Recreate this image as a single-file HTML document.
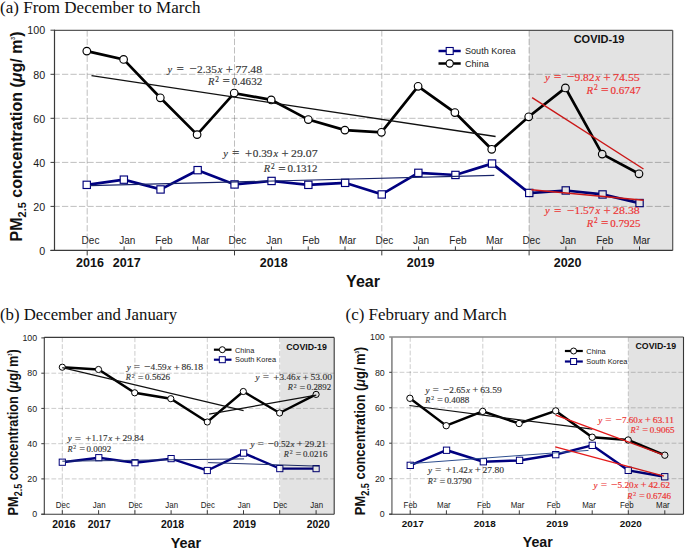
<!DOCTYPE html>
<html><head><meta charset="utf-8"><style>
html,body{margin:0;padding:0;background:#fff;}
svg{display:block;}
</style></head><body>
<svg width="685" height="550" viewBox="0 0 685 550">
<rect width="685" height="550" fill="#fff"/>
<line x1="53.5" y1="206.4" x2="672.7" y2="206.4" stroke="#000" stroke-width="1" stroke-dasharray="6.3,2.17" stroke-opacity="0.25"/>
<line x1="53.5" y1="162.4" x2="672.7" y2="162.4" stroke="#000" stroke-width="1" stroke-dasharray="6.3,2.17" stroke-opacity="0.25"/>
<line x1="53.5" y1="118.3" x2="672.7" y2="118.3" stroke="#000" stroke-width="1" stroke-dasharray="6.3,2.17" stroke-opacity="0.25"/>
<line x1="53.5" y1="74.3" x2="672.7" y2="74.3" stroke="#000" stroke-width="1" stroke-dasharray="6.3,2.17" stroke-opacity="0.25"/>
<line x1="87.2" y1="30.3" x2="87.2" y2="250.4" stroke="#000" stroke-width="1" stroke-dasharray="6.3,2.17" stroke-opacity="0.25"/>
<line x1="234.5" y1="30.3" x2="234.5" y2="250.4" stroke="#000" stroke-width="1" stroke-dasharray="6.3,2.17" stroke-opacity="0.25"/>
<line x1="381.8" y1="30.3" x2="381.8" y2="250.4" stroke="#000" stroke-width="1" stroke-dasharray="6.3,2.17" stroke-opacity="0.25"/>
<line x1="529.1" y1="30.3" x2="529.1" y2="250.4" stroke="#000" stroke-width="1" stroke-dasharray="6.3,2.17" stroke-opacity="0.25"/>
<line x1="54.5" y1="30.3" x2="672.7" y2="30.3" stroke="#5a5a5a" stroke-width="1.2"/>
<line x1="672.7" y1="30.3" x2="672.7" y2="250.4" stroke="#5a5a5a" stroke-width="1.2"/>
<line x1="54.5" y1="29.7" x2="54.5" y2="251.0" stroke="#3a3a3a" stroke-width="1.2"/>
<line x1="50.5" y1="250.4" x2="672.7" y2="250.4" stroke="#3a3a3a" stroke-width="1.2"/>
<line x1="50.5" y1="250.5" x2="54.5" y2="250.5" stroke="#3a3a3a" stroke-width="1"/>
<text x="45.2" y="254.7" font-family='"Liberation Sans", sans-serif' font-size="10.7" text-anchor="end" font-weight="normal" font-style="normal" fill="#1a1a1a" >0</text>
<line x1="50.5" y1="206.4" x2="54.5" y2="206.4" stroke="#3a3a3a" stroke-width="1"/>
<text x="45.2" y="210.6" font-family='"Liberation Sans", sans-serif' font-size="10.7" text-anchor="end" font-weight="normal" font-style="normal" fill="#1a1a1a" >20</text>
<line x1="50.5" y1="162.4" x2="54.5" y2="162.4" stroke="#3a3a3a" stroke-width="1"/>
<text x="45.2" y="166.6" font-family='"Liberation Sans", sans-serif' font-size="10.7" text-anchor="end" font-weight="normal" font-style="normal" fill="#1a1a1a" >40</text>
<line x1="50.5" y1="118.3" x2="54.5" y2="118.3" stroke="#3a3a3a" stroke-width="1"/>
<text x="45.2" y="122.5" font-family='"Liberation Sans", sans-serif' font-size="10.7" text-anchor="end" font-weight="normal" font-style="normal" fill="#1a1a1a" >60</text>
<line x1="50.5" y1="74.3" x2="54.5" y2="74.3" stroke="#3a3a3a" stroke-width="1"/>
<text x="45.2" y="78.5" font-family='"Liberation Sans", sans-serif' font-size="10.7" text-anchor="end" font-weight="normal" font-style="normal" fill="#1a1a1a" >80</text>
<line x1="50.5" y1="30.2" x2="54.5" y2="30.2" stroke="#3a3a3a" stroke-width="1"/>
<text x="45.2" y="34.4" font-family='"Liberation Sans", sans-serif' font-size="10.7" text-anchor="end" font-weight="normal" font-style="normal" fill="#1a1a1a" >100</text>
<line x1="87.2" y1="250.4" x2="87.2" y2="255.4" stroke="#3a3a3a" stroke-width="1"/>
<line x1="124.1" y1="246.4" x2="124.1" y2="250.4" stroke="#3a3a3a" stroke-width="1"/>
<line x1="160.9" y1="246.4" x2="160.9" y2="250.4" stroke="#3a3a3a" stroke-width="1"/>
<line x1="197.7" y1="246.4" x2="197.7" y2="250.4" stroke="#3a3a3a" stroke-width="1"/>
<line x1="234.5" y1="250.4" x2="234.5" y2="255.4" stroke="#3a3a3a" stroke-width="1"/>
<line x1="271.4" y1="246.4" x2="271.4" y2="250.4" stroke="#3a3a3a" stroke-width="1"/>
<line x1="308.2" y1="246.4" x2="308.2" y2="250.4" stroke="#3a3a3a" stroke-width="1"/>
<line x1="345.0" y1="246.4" x2="345.0" y2="250.4" stroke="#3a3a3a" stroke-width="1"/>
<line x1="381.8" y1="250.4" x2="381.8" y2="255.4" stroke="#3a3a3a" stroke-width="1"/>
<line x1="418.6" y1="246.4" x2="418.6" y2="250.4" stroke="#3a3a3a" stroke-width="1"/>
<line x1="455.4" y1="246.4" x2="455.4" y2="250.4" stroke="#3a3a3a" stroke-width="1"/>
<line x1="492.3" y1="246.4" x2="492.3" y2="250.4" stroke="#3a3a3a" stroke-width="1"/>
<line x1="529.1" y1="250.4" x2="529.1" y2="255.4" stroke="#3a3a3a" stroke-width="1"/>
<line x1="565.9" y1="246.4" x2="565.9" y2="250.4" stroke="#3a3a3a" stroke-width="1"/>
<line x1="602.7" y1="246.4" x2="602.7" y2="250.4" stroke="#3a3a3a" stroke-width="1"/>
<line x1="639.5" y1="246.4" x2="639.5" y2="250.4" stroke="#3a3a3a" stroke-width="1"/>
<text x="90.5" y="243.8" font-family='"Liberation Sans", sans-serif' font-size="10" text-anchor="middle" font-weight="normal" font-style="normal" fill="#1e1e1e" >Dec</text>
<text x="127.2" y="243.8" font-family='"Liberation Sans", sans-serif' font-size="10" text-anchor="middle" font-weight="normal" font-style="normal" fill="#1e1e1e" >Jan</text>
<text x="163.9" y="243.8" font-family='"Liberation Sans", sans-serif' font-size="10" text-anchor="middle" font-weight="normal" font-style="normal" fill="#1e1e1e" >Feb</text>
<text x="200.7" y="243.8" font-family='"Liberation Sans", sans-serif' font-size="10" text-anchor="middle" font-weight="normal" font-style="normal" fill="#1e1e1e" >Mar</text>
<text x="237.4" y="243.8" font-family='"Liberation Sans", sans-serif' font-size="10" text-anchor="middle" font-weight="normal" font-style="normal" fill="#1e1e1e" >Dec</text>
<text x="274.2" y="243.8" font-family='"Liberation Sans", sans-serif' font-size="10" text-anchor="middle" font-weight="normal" font-style="normal" fill="#1e1e1e" >Jan</text>
<text x="310.9" y="243.8" font-family='"Liberation Sans", sans-serif' font-size="10" text-anchor="middle" font-weight="normal" font-style="normal" fill="#1e1e1e" >Feb</text>
<text x="347.6" y="243.8" font-family='"Liberation Sans", sans-serif' font-size="10" text-anchor="middle" font-weight="normal" font-style="normal" fill="#1e1e1e" >Mar</text>
<text x="384.4" y="243.8" font-family='"Liberation Sans", sans-serif' font-size="10" text-anchor="middle" font-weight="normal" font-style="normal" fill="#1e1e1e" >Dec</text>
<text x="421.1" y="243.8" font-family='"Liberation Sans", sans-serif' font-size="10" text-anchor="middle" font-weight="normal" font-style="normal" fill="#1e1e1e" >Jan</text>
<text x="457.9" y="243.8" font-family='"Liberation Sans", sans-serif' font-size="10" text-anchor="middle" font-weight="normal" font-style="normal" fill="#1e1e1e" >Feb</text>
<text x="494.6" y="243.8" font-family='"Liberation Sans", sans-serif' font-size="10" text-anchor="middle" font-weight="normal" font-style="normal" fill="#1e1e1e" >Mar</text>
<text x="531.3" y="243.8" font-family='"Liberation Sans", sans-serif' font-size="10" text-anchor="middle" font-weight="normal" font-style="normal" fill="#1e1e1e" >Dec</text>
<text x="568.1" y="243.8" font-family='"Liberation Sans", sans-serif' font-size="10" text-anchor="middle" font-weight="normal" font-style="normal" fill="#1e1e1e" >Jan</text>
<text x="604.8" y="243.8" font-family='"Liberation Sans", sans-serif' font-size="10" text-anchor="middle" font-weight="normal" font-style="normal" fill="#1e1e1e" >Feb</text>
<text x="641.6" y="243.8" font-family='"Liberation Sans", sans-serif' font-size="10" text-anchor="middle" font-weight="normal" font-style="normal" fill="#1e1e1e" >Mar</text>
<text x="90.0" y="267.0" font-family='"Liberation Sans", sans-serif' font-size="12.5" text-anchor="middle" font-weight="bold" font-style="normal" fill="#111" >2016</text>
<text x="126.7" y="267.0" font-family='"Liberation Sans", sans-serif' font-size="12.5" text-anchor="middle" font-weight="bold" font-style="normal" fill="#111" >2017</text>
<text x="273.7" y="267.0" font-family='"Liberation Sans", sans-serif' font-size="12.5" text-anchor="middle" font-weight="bold" font-style="normal" fill="#111" >2018</text>
<text x="420.6" y="267.0" font-family='"Liberation Sans", sans-serif' font-size="12.5" text-anchor="middle" font-weight="bold" font-style="normal" fill="#111" >2019</text>
<text x="567.6" y="267.0" font-family='"Liberation Sans", sans-serif' font-size="12.5" text-anchor="middle" font-weight="bold" font-style="normal" fill="#111" >2020</text>
<text x="363.0" y="287.0" font-family='"Liberation Sans", sans-serif' font-size="16" text-anchor="middle" font-weight="bold" font-style="normal" fill="#111" >Year</text>
<text transform="translate(21.6,136.5) rotate(-90)" font-family='"Liberation Sans", sans-serif' font-size="16" font-weight="bold" text-anchor="middle" fill="#111">PM<tspan font-size="11" dy="4">2.5</tspan><tspan dy="-4"> concentration (</tspan><tspan font-style="italic">μ</tspan>g/ m<tspan font-size="5" dy="-7">3</tspan><tspan dy="7">)</tspan></text>
<text x="0.0" y="12.6" font-family='"Liberation Serif", serif' font-size="17.05" text-anchor="start" font-weight="normal" font-style="normal" fill="#111" >(a) From December to March</text>
<polyline points="86.8,51.1 123.6,59.4 160.3,97.8 197.1,134.6 234.2,93.1 271.2,99.9 308.3,119.6 344.9,130.1 381.4,132.3 418.1,86.3 454.9,112.6 491.7,149.3 528.7,116.8 565.4,87.9 602.2,154.1 639.0,173.8" fill="none" stroke="#000" stroke-width="2.7" stroke-linejoin="miter"/>
<polyline points="86.8,184.9 123.9,179.7 160.6,189.4 197.7,170.2 234.6,184.4 271.5,181.0 308.3,184.9 345.1,182.8 381.7,194.4 418.3,172.8 455.4,175.0 492.0,163.6 529.2,193.0 565.7,190.5 602.5,194.4 639.5,203.1" fill="none" stroke="#000080" stroke-width="2.7" stroke-linejoin="miter"/>
<circle cx="86.8" cy="51.1" r="3.8" fill="#fff" stroke="#000" stroke-width="1.15"/>
<circle cx="123.6" cy="59.4" r="3.8" fill="#fff" stroke="#000" stroke-width="1.15"/>
<circle cx="160.3" cy="97.8" r="3.8" fill="#fff" stroke="#000" stroke-width="1.15"/>
<circle cx="197.1" cy="134.6" r="3.8" fill="#fff" stroke="#000" stroke-width="1.15"/>
<circle cx="234.2" cy="93.1" r="3.8" fill="#fff" stroke="#000" stroke-width="1.15"/>
<circle cx="271.2" cy="99.9" r="3.8" fill="#fff" stroke="#000" stroke-width="1.15"/>
<circle cx="308.3" cy="119.6" r="3.8" fill="#fff" stroke="#000" stroke-width="1.15"/>
<circle cx="344.9" cy="130.1" r="3.8" fill="#fff" stroke="#000" stroke-width="1.15"/>
<circle cx="381.4" cy="132.3" r="3.8" fill="#fff" stroke="#000" stroke-width="1.15"/>
<circle cx="418.1" cy="86.3" r="3.8" fill="#fff" stroke="#000" stroke-width="1.15"/>
<circle cx="454.9" cy="112.6" r="3.8" fill="#fff" stroke="#000" stroke-width="1.15"/>
<circle cx="491.7" cy="149.3" r="3.8" fill="#fff" stroke="#000" stroke-width="1.15"/>
<circle cx="528.7" cy="116.8" r="3.8" fill="#fff" stroke="#000" stroke-width="1.15"/>
<circle cx="565.4" cy="87.9" r="3.8" fill="#fff" stroke="#000" stroke-width="1.15"/>
<circle cx="602.2" cy="154.1" r="3.8" fill="#fff" stroke="#000" stroke-width="1.15"/>
<circle cx="639.0" cy="173.8" r="3.8" fill="#fff" stroke="#000" stroke-width="1.15"/>
<rect x="83.1" y="181.2" width="7.3" height="7.3" fill="#fff" stroke="#00007a" stroke-width="1.15"/>
<rect x="120.2" y="176.0" width="7.3" height="7.3" fill="#fff" stroke="#00007a" stroke-width="1.15"/>
<rect x="156.9" y="185.8" width="7.3" height="7.3" fill="#fff" stroke="#00007a" stroke-width="1.15"/>
<rect x="194.0" y="166.5" width="7.3" height="7.3" fill="#fff" stroke="#00007a" stroke-width="1.15"/>
<rect x="230.9" y="180.8" width="7.3" height="7.3" fill="#fff" stroke="#00007a" stroke-width="1.15"/>
<rect x="267.9" y="177.3" width="7.3" height="7.3" fill="#fff" stroke="#00007a" stroke-width="1.15"/>
<rect x="304.7" y="181.2" width="7.3" height="7.3" fill="#fff" stroke="#00007a" stroke-width="1.15"/>
<rect x="341.5" y="179.2" width="7.3" height="7.3" fill="#fff" stroke="#00007a" stroke-width="1.15"/>
<rect x="378.1" y="190.8" width="7.3" height="7.3" fill="#fff" stroke="#00007a" stroke-width="1.15"/>
<rect x="414.7" y="169.2" width="7.3" height="7.3" fill="#fff" stroke="#00007a" stroke-width="1.15"/>
<rect x="451.8" y="171.3" width="7.3" height="7.3" fill="#fff" stroke="#00007a" stroke-width="1.15"/>
<rect x="488.4" y="159.9" width="7.3" height="7.3" fill="#fff" stroke="#00007a" stroke-width="1.15"/>
<rect x="525.6" y="189.3" width="7.3" height="7.3" fill="#fff" stroke="#00007a" stroke-width="1.15"/>
<rect x="562.1" y="186.8" width="7.3" height="7.3" fill="#fff" stroke="#00007a" stroke-width="1.15"/>
<rect x="598.9" y="190.8" width="7.3" height="7.3" fill="#fff" stroke="#00007a" stroke-width="1.15"/>
<rect x="635.9" y="199.4" width="7.3" height="7.3" fill="#fff" stroke="#00007a" stroke-width="1.15"/>
<line x1="91.5" y1="75.7" x2="495.6" y2="136.5" stroke="#111" stroke-width="1.3"/>
<line x1="90.0" y1="185.7" x2="494.3" y2="175.3" stroke="#18236a" stroke-width="1.2"/>
<line x1="532.1" y1="97.6" x2="643.5" y2="169.0" stroke="#e41a1a" stroke-width="1.4"/>
<line x1="531.3" y1="189.7" x2="643.7" y2="200.2" stroke="#e41a1a" stroke-width="1.4"/>
<rect x="529" y="30.3" width="143.7" height="220.1" fill="#000" fill-opacity="0.11"/>
<text x="169.9" y="72.9" font-family='"Liberation Serif", serif' font-size="10.5" font-style="italic" text-anchor="middle" fill="#333" stroke="#333" stroke-width="0.14">y</text>
<text x="180.1" y="73.3" font-family='"Liberation Serif", serif' font-size="13.125" font-style="normal" text-anchor="middle" fill="#333" stroke="#333" stroke-width="0.14">=</text>
<text x="193.0" y="73.3" font-family='"Liberation Serif", serif' font-size="13.125" font-style="normal" text-anchor="middle" fill="#333" stroke="#333" stroke-width="0.14">−</text>
<text x="197.1" y="72.9" font-family='"Liberation Serif", serif' font-size="10.5" font-style="normal" text-anchor="start" fill="#333" stroke="#333" stroke-width="0.14" textLength="19.8" lengthAdjust="spacingAndGlyphs">2.35</text>
<text x="220.2" y="72.9" font-family='"Liberation Serif", serif' font-size="10.5" font-style="italic" text-anchor="middle" fill="#333" stroke="#333" stroke-width="0.14">x</text>
<text x="229.4" y="74.0" font-family='"Liberation Serif", serif' font-size="12.6" font-style="normal" text-anchor="middle" fill="#333" stroke="#333" stroke-width="0.14">+</text>
<text x="235.6" y="72.9" font-family='"Liberation Serif", serif' font-size="10.5" font-style="normal" text-anchor="start" fill="#333" stroke="#333" stroke-width="0.14" textLength="26.6" lengthAdjust="spacingAndGlyphs">77.48</text>
<text x="211.2" y="84.8" font-family='"Liberation Serif", serif' font-size="10.5" font-style="italic" text-anchor="middle" fill="#333" stroke="#333" stroke-width="0.14">R</text>
<text x="217.1" y="81.5" font-family='"Liberation Serif", serif' font-size="7.35" font-style="normal" text-anchor="middle" fill="#333" stroke="#333" stroke-width="0.14">2</text>
<text x="226.2" y="85.2" font-family='"Liberation Serif", serif' font-size="13.125" font-style="normal" text-anchor="middle" fill="#333" stroke="#333" stroke-width="0.14">=</text>
<text x="231.8" y="84.8" font-family='"Liberation Serif", serif' font-size="10.5" font-style="normal" text-anchor="start" fill="#333" stroke="#333" stroke-width="0.14" textLength="30.4" lengthAdjust="spacingAndGlyphs">0.4632</text>
<text x="225.6" y="156.7" font-family='"Liberation Serif", serif' font-size="10.5" font-style="italic" text-anchor="middle" fill="#333" stroke="#333" stroke-width="0.14">y</text>
<text x="235.8" y="157.1" font-family='"Liberation Serif", serif' font-size="13.125" font-style="normal" text-anchor="middle" fill="#333" stroke="#333" stroke-width="0.14">=</text>
<text x="248.6" y="157.8" font-family='"Liberation Serif", serif' font-size="12.6" font-style="normal" text-anchor="middle" fill="#333" stroke="#333" stroke-width="0.14">+</text>
<text x="252.8" y="156.7" font-family='"Liberation Serif", serif' font-size="10.5" font-style="normal" text-anchor="start" fill="#333" stroke="#333" stroke-width="0.14" textLength="19.7" lengthAdjust="spacingAndGlyphs">0.39</text>
<text x="275.8" y="156.7" font-family='"Liberation Serif", serif' font-size="10.5" font-style="italic" text-anchor="middle" fill="#333" stroke="#333" stroke-width="0.14">x</text>
<text x="285.0" y="157.8" font-family='"Liberation Serif", serif' font-size="12.6" font-style="normal" text-anchor="middle" fill="#333" stroke="#333" stroke-width="0.14">+</text>
<text x="291.1" y="156.7" font-family='"Liberation Serif", serif' font-size="10.5" font-style="normal" text-anchor="start" fill="#333" stroke="#333" stroke-width="0.14" textLength="26.5" lengthAdjust="spacingAndGlyphs">29.07</text>
<text x="266.9" y="172.1" font-family='"Liberation Serif", serif' font-size="10.5" font-style="italic" text-anchor="middle" fill="#333" stroke="#333" stroke-width="0.14">R</text>
<text x="272.8" y="168.8" font-family='"Liberation Serif", serif' font-size="7.35" font-style="normal" text-anchor="middle" fill="#333" stroke="#333" stroke-width="0.14">2</text>
<text x="281.9" y="172.5" font-family='"Liberation Serif", serif' font-size="13.125" font-style="normal" text-anchor="middle" fill="#333" stroke="#333" stroke-width="0.14">=</text>
<text x="287.4" y="172.1" font-family='"Liberation Serif", serif' font-size="10.5" font-style="normal" text-anchor="start" fill="#333" stroke="#333" stroke-width="0.14" textLength="30.2" lengthAdjust="spacingAndGlyphs">0.1312</text>
<text x="547.4" y="80.5" font-family='"Liberation Serif", serif' font-size="10.8" font-style="italic" text-anchor="middle" fill="#ec3434" stroke="#ec3434" stroke-width="0.18">y</text>
<text x="557.6" y="80.9" font-family='"Liberation Serif", serif' font-size="13.5" font-style="normal" text-anchor="middle" fill="#ec3434" stroke="#ec3434" stroke-width="0.18">=</text>
<text x="570.5" y="80.9" font-family='"Liberation Serif", serif' font-size="13.5" font-style="normal" text-anchor="middle" fill="#ec3434" stroke="#ec3434" stroke-width="0.18">−</text>
<text x="574.6" y="80.5" font-family='"Liberation Serif", serif' font-size="10.8" font-style="normal" text-anchor="start" fill="#ec3434" stroke="#ec3434" stroke-width="0.18" textLength="19.8" lengthAdjust="spacingAndGlyphs">9.82</text>
<text x="597.8" y="80.5" font-family='"Liberation Serif", serif' font-size="10.8" font-style="italic" text-anchor="middle" fill="#ec3434" stroke="#ec3434" stroke-width="0.18">x</text>
<text x="607.0" y="81.6" font-family='"Liberation Serif", serif' font-size="12.96" font-style="normal" text-anchor="middle" fill="#ec3434" stroke="#ec3434" stroke-width="0.18">+</text>
<text x="613.1" y="80.5" font-family='"Liberation Serif", serif' font-size="10.8" font-style="normal" text-anchor="start" fill="#ec3434" stroke="#ec3434" stroke-width="0.18" textLength="26.7" lengthAdjust="spacingAndGlyphs">74.55</text>
<text x="589.9" y="93.7" font-family='"Liberation Serif", serif' font-size="10.8" font-style="italic" text-anchor="middle" fill="#ec3434" stroke="#ec3434" stroke-width="0.18">R</text>
<text x="595.8" y="90.4" font-family='"Liberation Serif", serif' font-size="7.56" font-style="normal" text-anchor="middle" fill="#ec3434" stroke="#ec3434" stroke-width="0.18">2</text>
<text x="604.9" y="94.1" font-family='"Liberation Serif", serif' font-size="13.5" font-style="normal" text-anchor="middle" fill="#ec3434" stroke="#ec3434" stroke-width="0.18">=</text>
<text x="610.5" y="93.7" font-family='"Liberation Serif", serif' font-size="10.8" font-style="normal" text-anchor="start" fill="#ec3434" stroke="#ec3434" stroke-width="0.18" textLength="30.3" lengthAdjust="spacingAndGlyphs">0.6747</text>
<text x="547.4" y="214.1" font-family='"Liberation Serif", serif' font-size="10.5" font-style="italic" text-anchor="middle" fill="#ec3434" stroke="#ec3434" stroke-width="0.18">y</text>
<text x="557.6" y="214.5" font-family='"Liberation Serif", serif' font-size="13.125" font-style="normal" text-anchor="middle" fill="#ec3434" stroke="#ec3434" stroke-width="0.18">=</text>
<text x="570.5" y="214.5" font-family='"Liberation Serif", serif' font-size="13.125" font-style="normal" text-anchor="middle" fill="#ec3434" stroke="#ec3434" stroke-width="0.18">−</text>
<text x="574.6" y="214.1" font-family='"Liberation Serif", serif' font-size="10.5" font-style="normal" text-anchor="start" fill="#ec3434" stroke="#ec3434" stroke-width="0.18" textLength="19.8" lengthAdjust="spacingAndGlyphs">1.57</text>
<text x="597.8" y="214.1" font-family='"Liberation Serif", serif' font-size="10.5" font-style="italic" text-anchor="middle" fill="#ec3434" stroke="#ec3434" stroke-width="0.18">x</text>
<text x="607.0" y="215.2" font-family='"Liberation Serif", serif' font-size="12.6" font-style="normal" text-anchor="middle" fill="#ec3434" stroke="#ec3434" stroke-width="0.18">+</text>
<text x="613.1" y="214.1" font-family='"Liberation Serif", serif' font-size="10.5" font-style="normal" text-anchor="start" fill="#ec3434" stroke="#ec3434" stroke-width="0.18" textLength="26.7" lengthAdjust="spacingAndGlyphs">28.38</text>
<text x="589.9" y="226.5" font-family='"Liberation Serif", serif' font-size="10.5" font-style="italic" text-anchor="middle" fill="#ec3434" stroke="#ec3434" stroke-width="0.18">R</text>
<text x="595.8" y="223.2" font-family='"Liberation Serif", serif' font-size="7.35" font-style="normal" text-anchor="middle" fill="#ec3434" stroke="#ec3434" stroke-width="0.18">2</text>
<text x="604.8" y="226.9" font-family='"Liberation Serif", serif' font-size="13.125" font-style="normal" text-anchor="middle" fill="#ec3434" stroke="#ec3434" stroke-width="0.18">=</text>
<text x="610.3" y="226.5" font-family='"Liberation Serif", serif' font-size="10.5" font-style="normal" text-anchor="start" fill="#ec3434" stroke="#ec3434" stroke-width="0.18" textLength="30.1" lengthAdjust="spacingAndGlyphs">0.7925</text>
<line x1="438.5" y1="51.0" x2="460.7" y2="51.0" stroke="#000080" stroke-width="2.5"/>
<rect x="446.2" y="47.5" width="7" height="7" fill="#fff" stroke="#00007a" stroke-width="1.1"/>
<line x1="438.5" y1="63.5" x2="460.7" y2="63.5" stroke="#000" stroke-width="2.5"/>
<circle cx="449.7" cy="63.5" r="3.6" fill="#fff" stroke="#000" stroke-width="1.1"/>
<text x="465.0" y="54.1" font-family='"Liberation Sans", sans-serif' font-size="9.1" text-anchor="start" font-weight="normal" font-style="normal" fill="#1a1a1a" >South Korea</text>
<text x="465.0" y="66.8" font-family='"Liberation Sans", sans-serif' font-size="9.1" text-anchor="start" font-weight="normal" font-style="normal" fill="#1a1a1a" >China</text>
<text x="599.0" y="42.5" font-family='"Liberation Sans", sans-serif' font-size="11" text-anchor="middle" font-weight="bold" font-style="normal" fill="#111" >COVID-19</text>
<line x1="44.6" y1="478.9" x2="334.2" y2="478.9" stroke="#000" stroke-width="1" stroke-dasharray="4.8,2.0" stroke-opacity="0.2"/>
<line x1="44.6" y1="443.7" x2="334.2" y2="443.7" stroke="#000" stroke-width="1" stroke-dasharray="4.8,2.0" stroke-opacity="0.2"/>
<line x1="44.6" y1="408.4" x2="334.2" y2="408.4" stroke="#000" stroke-width="1" stroke-dasharray="4.8,2.0" stroke-opacity="0.2"/>
<line x1="44.6" y1="373.2" x2="334.2" y2="373.2" stroke="#000" stroke-width="1" stroke-dasharray="4.8,2.0" stroke-opacity="0.2"/>
<line x1="62.3" y1="337.4" x2="62.3" y2="514.2" stroke="#000" stroke-width="1" stroke-dasharray="4.8,2.0" stroke-opacity="0.2"/>
<line x1="134.9" y1="337.4" x2="134.9" y2="514.2" stroke="#000" stroke-width="1" stroke-dasharray="4.8,2.0" stroke-opacity="0.2"/>
<line x1="207.3" y1="337.4" x2="207.3" y2="514.2" stroke="#000" stroke-width="1" stroke-dasharray="4.8,2.0" stroke-opacity="0.2"/>
<line x1="279.7" y1="337.4" x2="279.7" y2="514.2" stroke="#000" stroke-width="1" stroke-dasharray="4.8,2.0" stroke-opacity="0.2"/>
<line x1="44.3" y1="337.4" x2="334.2" y2="337.4" stroke="#3a3a3a" stroke-width="1.1"/>
<line x1="334.2" y1="337.4" x2="334.2" y2="514.2" stroke="#3a3a3a" stroke-width="1.1"/>
<line x1="44.3" y1="336.9" x2="44.3" y2="514.7" stroke="#3a3a3a" stroke-width="1.1"/>
<line x1="41.3" y1="514.2" x2="334.2" y2="514.2" stroke="#3a3a3a" stroke-width="1.1"/>
<line x1="41.3" y1="514.2" x2="44.3" y2="514.2" stroke="#3a3a3a" stroke-width="1"/>
<text x="37.1" y="517.4" font-family='"Liberation Sans", sans-serif' font-size="8.8" text-anchor="end" font-weight="normal" font-style="normal" fill="#1a1a1a" >0</text>
<line x1="41.3" y1="478.9" x2="44.3" y2="478.9" stroke="#3a3a3a" stroke-width="1"/>
<text x="37.1" y="482.1" font-family='"Liberation Sans", sans-serif' font-size="8.8" text-anchor="end" font-weight="normal" font-style="normal" fill="#1a1a1a" >20</text>
<line x1="41.3" y1="443.7" x2="44.3" y2="443.7" stroke="#3a3a3a" stroke-width="1"/>
<text x="37.1" y="446.9" font-family='"Liberation Sans", sans-serif' font-size="8.8" text-anchor="end" font-weight="normal" font-style="normal" fill="#1a1a1a" >40</text>
<line x1="41.3" y1="408.4" x2="44.3" y2="408.4" stroke="#3a3a3a" stroke-width="1"/>
<text x="37.1" y="411.6" font-family='"Liberation Sans", sans-serif' font-size="8.8" text-anchor="end" font-weight="normal" font-style="normal" fill="#1a1a1a" >60</text>
<line x1="41.3" y1="373.2" x2="44.3" y2="373.2" stroke="#3a3a3a" stroke-width="1"/>
<text x="37.1" y="376.4" font-family='"Liberation Sans", sans-serif' font-size="8.8" text-anchor="end" font-weight="normal" font-style="normal" fill="#1a1a1a" >80</text>
<line x1="41.3" y1="337.9" x2="44.3" y2="337.9" stroke="#3a3a3a" stroke-width="1"/>
<text x="37.1" y="341.1" font-family='"Liberation Sans", sans-serif' font-size="8.8" text-anchor="end" font-weight="normal" font-style="normal" fill="#1a1a1a" >100</text>
<line x1="62.3" y1="510.2" x2="62.3" y2="514.2" stroke="#3a3a3a" stroke-width="1"/>
<line x1="98.6" y1="510.2" x2="98.6" y2="514.2" stroke="#3a3a3a" stroke-width="1"/>
<line x1="134.9" y1="510.2" x2="134.9" y2="514.2" stroke="#3a3a3a" stroke-width="1"/>
<line x1="171.1" y1="510.2" x2="171.1" y2="514.2" stroke="#3a3a3a" stroke-width="1"/>
<line x1="207.3" y1="510.2" x2="207.3" y2="514.2" stroke="#3a3a3a" stroke-width="1"/>
<line x1="243.5" y1="510.2" x2="243.5" y2="514.2" stroke="#3a3a3a" stroke-width="1"/>
<line x1="279.7" y1="510.2" x2="279.7" y2="514.2" stroke="#3a3a3a" stroke-width="1"/>
<line x1="316.1" y1="510.2" x2="316.1" y2="514.2" stroke="#3a3a3a" stroke-width="1"/>
<text transform="translate(62.90,507.80) scale(0.9,1)" x="0" y="0" font-family='"Liberation Sans", sans-serif' font-size="8.8" text-anchor="middle" font-weight="normal" fill="#1a1a1a">Dec</text>
<text transform="translate(99.20,507.80) scale(0.9,1)" x="0" y="0" font-family='"Liberation Sans", sans-serif' font-size="8.8" text-anchor="middle" font-weight="normal" fill="#1a1a1a">Jan</text>
<text transform="translate(135.50,507.80) scale(0.9,1)" x="0" y="0" font-family='"Liberation Sans", sans-serif' font-size="8.8" text-anchor="middle" font-weight="normal" fill="#1a1a1a">Dec</text>
<text transform="translate(171.70,507.80) scale(0.9,1)" x="0" y="0" font-family='"Liberation Sans", sans-serif' font-size="8.8" text-anchor="middle" font-weight="normal" fill="#1a1a1a">Jan</text>
<text transform="translate(207.90,507.80) scale(0.9,1)" x="0" y="0" font-family='"Liberation Sans", sans-serif' font-size="8.8" text-anchor="middle" font-weight="normal" fill="#1a1a1a">Dec</text>
<text transform="translate(244.10,507.80) scale(0.9,1)" x="0" y="0" font-family='"Liberation Sans", sans-serif' font-size="8.8" text-anchor="middle" font-weight="normal" fill="#1a1a1a">Jan</text>
<text transform="translate(280.30,507.80) scale(0.9,1)" x="0" y="0" font-family='"Liberation Sans", sans-serif' font-size="8.8" text-anchor="middle" font-weight="normal" fill="#1a1a1a">Dec</text>
<text transform="translate(316.70,507.80) scale(0.9,1)" x="0" y="0" font-family='"Liberation Sans", sans-serif' font-size="8.8" text-anchor="middle" font-weight="normal" fill="#1a1a1a">Jan</text>
<text x="63.9" y="527.5" font-family='"Liberation Sans", sans-serif' font-size="10.4" text-anchor="middle" font-weight="bold" font-style="normal" fill="#111" >2016</text>
<text x="99.2" y="527.5" font-family='"Liberation Sans", sans-serif' font-size="10.4" text-anchor="middle" font-weight="bold" font-style="normal" fill="#111" >2017</text>
<text x="172.6" y="527.5" font-family='"Liberation Sans", sans-serif' font-size="10.4" text-anchor="middle" font-weight="bold" font-style="normal" fill="#111" >2018</text>
<text x="244.6" y="527.5" font-family='"Liberation Sans", sans-serif' font-size="10.4" text-anchor="middle" font-weight="bold" font-style="normal" fill="#111" >2019</text>
<text x="318.2" y="527.5" font-family='"Liberation Sans", sans-serif' font-size="10.4" text-anchor="middle" font-weight="bold" font-style="normal" fill="#111" >2020</text>
<text x="185.9" y="548.1" font-family='"Liberation Sans", sans-serif' font-size="14.4" text-anchor="middle" font-weight="bold" font-style="normal" fill="#111" >Year</text>
<text transform="translate(18.2,432.3) rotate(-90) scale(0.896,1)" font-family='"Liberation Sans", sans-serif' font-size="14.2" font-weight="bold" text-anchor="middle" fill="#111">PM<tspan font-size="10" dy="3.5">2.5</tspan><tspan dy="-3.5"> concentration (</tspan><tspan font-style="italic">μ</tspan>g/ m<tspan font-size="4.5" dy="-6">3</tspan><tspan dy="6">)</tspan></text>
<text x="0.0" y="319.7" font-family='"Liberation Serif", serif' font-size="16.75" text-anchor="start" font-weight="normal" font-style="normal" fill="#111" >(b) December and January</text>
<polyline points="62.3,367.2 98.5,369.5 134.7,392.8 170.8,398.7 207.3,422.0 243.3,391.5 279.6,413.0 316.1,394.4" fill="none" stroke="#000" stroke-width="2.4" stroke-linejoin="miter"/>
<polyline points="62.3,462.2 98.8,457.7 135.0,462.7 171.1,458.6 207.3,470.5 243.6,453.1 279.8,468.6 316.1,468.6" fill="none" stroke="#000080" stroke-width="2.4" stroke-linejoin="miter"/>
<circle cx="62.3" cy="367.2" r="3.1" fill="#fff" stroke="#000" stroke-width="1.0"/>
<circle cx="98.5" cy="369.5" r="3.1" fill="#fff" stroke="#000" stroke-width="1.0"/>
<circle cx="134.7" cy="392.8" r="3.1" fill="#fff" stroke="#000" stroke-width="1.0"/>
<circle cx="170.8" cy="398.7" r="3.1" fill="#fff" stroke="#000" stroke-width="1.0"/>
<circle cx="207.3" cy="422.0" r="3.1" fill="#fff" stroke="#000" stroke-width="1.0"/>
<circle cx="243.3" cy="391.5" r="3.1" fill="#fff" stroke="#000" stroke-width="1.0"/>
<circle cx="279.6" cy="413.0" r="3.1" fill="#fff" stroke="#000" stroke-width="1.0"/>
<circle cx="316.1" cy="394.4" r="3.1" fill="#fff" stroke="#000" stroke-width="1.0"/>
<rect x="59.2" y="459.1" width="6.2" height="6.2" fill="#fff" stroke="#00007a" stroke-width="1.0"/>
<rect x="95.7" y="454.6" width="6.2" height="6.2" fill="#fff" stroke="#00007a" stroke-width="1.0"/>
<rect x="131.9" y="459.6" width="6.2" height="6.2" fill="#fff" stroke="#00007a" stroke-width="1.0"/>
<rect x="168.0" y="455.5" width="6.2" height="6.2" fill="#fff" stroke="#00007a" stroke-width="1.0"/>
<rect x="204.2" y="467.4" width="6.2" height="6.2" fill="#fff" stroke="#00007a" stroke-width="1.0"/>
<rect x="240.5" y="450.0" width="6.2" height="6.2" fill="#fff" stroke="#00007a" stroke-width="1.0"/>
<rect x="276.7" y="465.5" width="6.2" height="6.2" fill="#fff" stroke="#00007a" stroke-width="1.0"/>
<rect x="313.0" y="465.5" width="6.2" height="6.2" fill="#fff" stroke="#00007a" stroke-width="1.0"/>
<line x1="62.3" y1="367.6" x2="243.6" y2="410.6" stroke="#111" stroke-width="1.2"/>
<line x1="209.1" y1="414.1" x2="316.3" y2="395.2" stroke="#111" stroke-width="1.2"/>
<line x1="62.3" y1="461.2" x2="244.1" y2="458.9" stroke="#1f2f6f" stroke-width="1.0"/>
<line x1="208.1" y1="462.6" x2="319.0" y2="466.2" stroke="#1f2f6f" stroke-width="1.0"/>
<rect x="280.3" y="337.4" width="53.9" height="176.8" fill="#000" fill-opacity="0.11"/>
<text x="128.7" y="369.8" font-family='"Liberation Serif", serif' font-size="9" font-style="italic" text-anchor="middle" fill="#333" stroke="#333" stroke-width="0.14">y</text>
<text x="137.0" y="370.2" font-family='"Liberation Serif", serif' font-size="11.25" font-style="normal" text-anchor="middle" fill="#333" stroke="#333" stroke-width="0.14">=</text>
<text x="147.3" y="370.2" font-family='"Liberation Serif", serif' font-size="11.25" font-style="normal" text-anchor="middle" fill="#333" stroke="#333" stroke-width="0.14">−</text>
<text x="150.6" y="369.8" font-family='"Liberation Serif", serif' font-size="9" font-style="normal" text-anchor="start" fill="#333" stroke="#333" stroke-width="0.14" textLength="16.1" lengthAdjust="spacingAndGlyphs">4.59</text>
<text x="169.3" y="369.8" font-family='"Liberation Serif", serif' font-size="9" font-style="italic" text-anchor="middle" fill="#333" stroke="#333" stroke-width="0.14">x</text>
<text x="176.7" y="370.7" font-family='"Liberation Serif", serif' font-size="10.799999999999999" font-style="normal" text-anchor="middle" fill="#333" stroke="#333" stroke-width="0.14">+</text>
<text x="181.5" y="369.8" font-family='"Liberation Serif", serif' font-size="9" font-style="normal" text-anchor="start" fill="#333" stroke="#333" stroke-width="0.14" textLength="21.6" lengthAdjust="spacingAndGlyphs">86.18</text>
<text x="128.3" y="380.2" font-family='"Liberation Serif", serif' font-size="8.3" font-style="italic" text-anchor="middle" fill="#333" stroke="#333" stroke-width="0.14">R</text>
<text x="133.1" y="377.6" font-family='"Liberation Serif", serif' font-size="5.8100000000000005" font-style="normal" text-anchor="middle" fill="#333" stroke="#333" stroke-width="0.14">2</text>
<text x="140.6" y="380.5" font-family='"Liberation Serif", serif' font-size="10.375" font-style="normal" text-anchor="middle" fill="#333" stroke="#333" stroke-width="0.14">=</text>
<text x="145.1" y="380.2" font-family='"Liberation Serif", serif' font-size="8.3" font-style="normal" text-anchor="start" fill="#333" stroke="#333" stroke-width="0.14" textLength="24.9" lengthAdjust="spacingAndGlyphs">0.5626</text>
<text x="257.6" y="379.8" font-family='"Liberation Serif", serif' font-size="9" font-style="italic" text-anchor="middle" fill="#333" stroke="#333" stroke-width="0.14">y</text>
<text x="265.9" y="380.2" font-family='"Liberation Serif", serif' font-size="11.25" font-style="normal" text-anchor="middle" fill="#333" stroke="#333" stroke-width="0.14">=</text>
<text x="276.2" y="380.7" font-family='"Liberation Serif", serif' font-size="10.799999999999999" font-style="normal" text-anchor="middle" fill="#333" stroke="#333" stroke-width="0.14">+</text>
<text x="279.5" y="379.8" font-family='"Liberation Serif", serif' font-size="9" font-style="normal" text-anchor="start" fill="#333" stroke="#333" stroke-width="0.14" textLength="16.1" lengthAdjust="spacingAndGlyphs">3.46</text>
<text x="298.2" y="379.8" font-family='"Liberation Serif", serif' font-size="9" font-style="italic" text-anchor="middle" fill="#333" stroke="#333" stroke-width="0.14">x</text>
<text x="305.6" y="380.7" font-family='"Liberation Serif", serif' font-size="10.799999999999999" font-style="normal" text-anchor="middle" fill="#333" stroke="#333" stroke-width="0.14">+</text>
<text x="310.4" y="379.8" font-family='"Liberation Serif", serif' font-size="9" font-style="normal" text-anchor="start" fill="#333" stroke="#333" stroke-width="0.14" textLength="21.6" lengthAdjust="spacingAndGlyphs">53.00</text>
<text x="290.4" y="390.2" font-family='"Liberation Serif", serif' font-size="8.3" font-style="italic" text-anchor="middle" fill="#333" stroke="#333" stroke-width="0.14">R</text>
<text x="295.1" y="387.6" font-family='"Liberation Serif", serif' font-size="5.8100000000000005" font-style="normal" text-anchor="middle" fill="#333" stroke="#333" stroke-width="0.14">2</text>
<text x="302.4" y="390.5" font-family='"Liberation Serif", serif' font-size="10.375" font-style="normal" text-anchor="middle" fill="#333" stroke="#333" stroke-width="0.14">=</text>
<text x="306.8" y="390.2" font-family='"Liberation Serif", serif' font-size="8.3" font-style="normal" text-anchor="start" fill="#333" stroke="#333" stroke-width="0.14" textLength="24.3" lengthAdjust="spacingAndGlyphs">0.2892</text>
<text x="69.7" y="441.2" font-family='"Liberation Serif", serif' font-size="9" font-style="italic" text-anchor="middle" fill="#333" stroke="#333" stroke-width="0.14">y</text>
<text x="77.9" y="441.6" font-family='"Liberation Serif", serif' font-size="11.25" font-style="normal" text-anchor="middle" fill="#333" stroke="#333" stroke-width="0.14">=</text>
<text x="88.3" y="442.1" font-family='"Liberation Serif", serif' font-size="10.799999999999999" font-style="normal" text-anchor="middle" fill="#333" stroke="#333" stroke-width="0.14">+</text>
<text x="91.5" y="441.2" font-family='"Liberation Serif", serif' font-size="9" font-style="normal" text-anchor="start" fill="#333" stroke="#333" stroke-width="0.14" textLength="16.0" lengthAdjust="spacingAndGlyphs">1.17</text>
<text x="110.2" y="441.2" font-family='"Liberation Serif", serif' font-size="9" font-style="italic" text-anchor="middle" fill="#333" stroke="#333" stroke-width="0.14">x</text>
<text x="117.5" y="442.1" font-family='"Liberation Serif", serif' font-size="10.799999999999999" font-style="normal" text-anchor="middle" fill="#333" stroke="#333" stroke-width="0.14">+</text>
<text x="122.4" y="441.2" font-family='"Liberation Serif", serif' font-size="9" font-style="normal" text-anchor="start" fill="#333" stroke="#333" stroke-width="0.14" textLength="21.5" lengthAdjust="spacingAndGlyphs">29.84</text>
<text x="70.0" y="451.9" font-family='"Liberation Serif", serif' font-size="8.3" font-style="italic" text-anchor="middle" fill="#333" stroke="#333" stroke-width="0.14">R</text>
<text x="74.8" y="449.3" font-family='"Liberation Serif", serif' font-size="5.8100000000000005" font-style="normal" text-anchor="middle" fill="#333" stroke="#333" stroke-width="0.14">2</text>
<text x="82.1" y="452.2" font-family='"Liberation Serif", serif' font-size="10.375" font-style="normal" text-anchor="middle" fill="#333" stroke="#333" stroke-width="0.14">=</text>
<text x="86.6" y="451.9" font-family='"Liberation Serif", serif' font-size="8.3" font-style="normal" text-anchor="start" fill="#333" stroke="#333" stroke-width="0.14" textLength="24.7" lengthAdjust="spacingAndGlyphs">0.0092</text>
<text x="252.4" y="446.5" font-family='"Liberation Serif", serif' font-size="9" font-style="italic" text-anchor="middle" fill="#333" stroke="#333" stroke-width="0.14">y</text>
<text x="260.6" y="446.9" font-family='"Liberation Serif", serif' font-size="11.25" font-style="normal" text-anchor="middle" fill="#333" stroke="#333" stroke-width="0.14">=</text>
<text x="270.8" y="446.9" font-family='"Liberation Serif", serif' font-size="11.25" font-style="normal" text-anchor="middle" fill="#333" stroke="#333" stroke-width="0.14">−</text>
<text x="274.1" y="446.5" font-family='"Liberation Serif", serif' font-size="9" font-style="normal" text-anchor="start" fill="#333" stroke="#333" stroke-width="0.14" textLength="15.9" lengthAdjust="spacingAndGlyphs">0.52</text>
<text x="292.6" y="446.5" font-family='"Liberation Serif", serif' font-size="9" font-style="italic" text-anchor="middle" fill="#333" stroke="#333" stroke-width="0.14">x</text>
<text x="299.9" y="447.4" font-family='"Liberation Serif", serif' font-size="10.799999999999999" font-style="normal" text-anchor="middle" fill="#333" stroke="#333" stroke-width="0.14">+</text>
<text x="304.7" y="446.5" font-family='"Liberation Serif", serif' font-size="9" font-style="normal" text-anchor="start" fill="#333" stroke="#333" stroke-width="0.14" textLength="21.4" lengthAdjust="spacingAndGlyphs">29.21</text>
<text x="286.4" y="456.6" font-family='"Liberation Serif", serif' font-size="8.3" font-style="italic" text-anchor="middle" fill="#333" stroke="#333" stroke-width="0.14">R</text>
<text x="291.1" y="454.0" font-family='"Liberation Serif", serif' font-size="5.8100000000000005" font-style="normal" text-anchor="middle" fill="#333" stroke="#333" stroke-width="0.14">2</text>
<text x="298.4" y="456.9" font-family='"Liberation Serif", serif' font-size="10.375" font-style="normal" text-anchor="middle" fill="#333" stroke="#333" stroke-width="0.14">=</text>
<text x="302.9" y="456.6" font-family='"Liberation Serif", serif' font-size="8.3" font-style="normal" text-anchor="start" fill="#333" stroke="#333" stroke-width="0.14" textLength="24.5" lengthAdjust="spacingAndGlyphs">0.0216</text>
<line x1="213.9" y1="349.7" x2="231.5" y2="349.7" stroke="#000" stroke-width="2.2"/>
<circle cx="222.3" cy="349.7" r="3.0" fill="#fff" stroke="#000" stroke-width="1.0"/>
<line x1="213.9" y1="359.7" x2="231.5" y2="359.7" stroke="#000080" stroke-width="2.2"/>
<rect x="219.3" y="356.7" width="6" height="6" fill="#fff" stroke="#00007a" stroke-width="1.0"/>
<text x="235.0" y="352.7" font-family='"Liberation Sans", sans-serif' font-size="7.4" text-anchor="start" font-weight="normal" font-style="normal" fill="#1a1a1a" >China</text>
<text x="235.0" y="362.3" font-family='"Liberation Sans", sans-serif' font-size="7.4" text-anchor="start" font-weight="normal" font-style="normal" fill="#1a1a1a" >South Korea</text>
<text x="306.5" y="350.4" font-family='"Liberation Sans", sans-serif' font-size="8.8" text-anchor="middle" font-weight="bold" font-style="normal" fill="#111" >COVID-19</text>
<line x1="392.8" y1="478.7" x2="683.5" y2="478.7" stroke="#000" stroke-width="1" stroke-dasharray="4.8,2.0" stroke-opacity="0.2"/>
<line x1="392.8" y1="443.2" x2="683.5" y2="443.2" stroke="#000" stroke-width="1" stroke-dasharray="4.8,2.0" stroke-opacity="0.2"/>
<line x1="392.8" y1="407.8" x2="683.5" y2="407.8" stroke="#000" stroke-width="1" stroke-dasharray="4.8,2.0" stroke-opacity="0.2"/>
<line x1="392.8" y1="372.3" x2="683.5" y2="372.3" stroke="#000" stroke-width="1" stroke-dasharray="4.8,2.0" stroke-opacity="0.2"/>
<line x1="410.2" y1="337.0" x2="410.2" y2="514.3" stroke="#000" stroke-width="1" stroke-dasharray="4.8,2.0" stroke-opacity="0.2"/>
<line x1="482.8" y1="337.0" x2="482.8" y2="514.3" stroke="#000" stroke-width="1" stroke-dasharray="4.8,2.0" stroke-opacity="0.2"/>
<line x1="555.7" y1="337.0" x2="555.7" y2="514.3" stroke="#000" stroke-width="1" stroke-dasharray="4.8,2.0" stroke-opacity="0.2"/>
<line x1="628.3" y1="337.0" x2="628.3" y2="514.3" stroke="#000" stroke-width="1" stroke-dasharray="4.8,2.0" stroke-opacity="0.2"/>
<line x1="389.2" y1="337.0" x2="683.5" y2="337.0" stroke="#8a8a8a" stroke-width="1.5"/>
<line x1="683.5" y1="337.0" x2="683.5" y2="514.3" stroke="#3a3a3a" stroke-width="1.1"/>
<line x1="391.9" y1="337.0" x2="391.9" y2="514.3" stroke="#8c8c8c" stroke-width="1.7"/>
<line x1="389.2" y1="514.3" x2="683.5" y2="514.3" stroke="#333" stroke-width="1.1"/>
<line x1="389.2" y1="514.1" x2="391.9" y2="514.1" stroke="#3a3a3a" stroke-width="1"/>
<line x1="389.2" y1="478.7" x2="391.9" y2="478.7" stroke="#3a3a3a" stroke-width="1"/>
<line x1="389.2" y1="443.2" x2="391.9" y2="443.2" stroke="#3a3a3a" stroke-width="1"/>
<line x1="389.2" y1="407.8" x2="391.9" y2="407.8" stroke="#3a3a3a" stroke-width="1"/>
<line x1="389.2" y1="372.3" x2="391.9" y2="372.3" stroke="#3a3a3a" stroke-width="1"/>
<text x="384.7" y="517.3" font-family='"Liberation Sans", sans-serif' font-size="8.8" text-anchor="end" font-weight="normal" font-style="normal" fill="#1a1a1a" >0</text>
<text x="384.7" y="481.9" font-family='"Liberation Sans", sans-serif' font-size="8.8" text-anchor="end" font-weight="normal" font-style="normal" fill="#1a1a1a" >20</text>
<text x="384.7" y="446.4" font-family='"Liberation Sans", sans-serif' font-size="8.8" text-anchor="end" font-weight="normal" font-style="normal" fill="#1a1a1a" >40</text>
<text x="384.7" y="411.0" font-family='"Liberation Sans", sans-serif' font-size="8.8" text-anchor="end" font-weight="normal" font-style="normal" fill="#1a1a1a" >60</text>
<text x="384.7" y="375.5" font-family='"Liberation Sans", sans-serif' font-size="8.8" text-anchor="end" font-weight="normal" font-style="normal" fill="#1a1a1a" >80</text>
<text x="384.7" y="340.1" font-family='"Liberation Sans", sans-serif' font-size="8.8" text-anchor="end" font-weight="normal" font-style="normal" fill="#1a1a1a" >100</text>
<line x1="410.2" y1="510.3" x2="410.2" y2="514.3" stroke="#3a3a3a" stroke-width="1"/>
<line x1="446.4" y1="510.3" x2="446.4" y2="514.3" stroke="#3a3a3a" stroke-width="1"/>
<line x1="482.8" y1="510.3" x2="482.8" y2="514.3" stroke="#3a3a3a" stroke-width="1"/>
<line x1="519.3" y1="510.3" x2="519.3" y2="514.3" stroke="#3a3a3a" stroke-width="1"/>
<line x1="555.7" y1="510.3" x2="555.7" y2="514.3" stroke="#3a3a3a" stroke-width="1"/>
<line x1="592.2" y1="510.3" x2="592.2" y2="514.3" stroke="#3a3a3a" stroke-width="1"/>
<line x1="628.3" y1="510.3" x2="628.3" y2="514.3" stroke="#3a3a3a" stroke-width="1"/>
<line x1="664.8" y1="510.3" x2="664.8" y2="514.3" stroke="#3a3a3a" stroke-width="1"/>
<text transform="translate(410.40,508.00) scale(0.9,1)" x="0" y="0" font-family='"Liberation Sans", sans-serif' font-size="8.8" text-anchor="middle" font-weight="normal" fill="#1a1a1a">Feb</text>
<text transform="translate(443.90,508.00) scale(0.9,1)" x="0" y="0" font-family='"Liberation Sans", sans-serif' font-size="8.8" text-anchor="middle" font-weight="normal" fill="#1a1a1a">Mar</text>
<text transform="translate(483.90,508.00) scale(0.9,1)" x="0" y="0" font-family='"Liberation Sans", sans-serif' font-size="8.8" text-anchor="middle" font-weight="normal" fill="#1a1a1a">Feb</text>
<text transform="translate(517.60,508.00) scale(0.9,1)" x="0" y="0" font-family='"Liberation Sans", sans-serif' font-size="8.8" text-anchor="middle" font-weight="normal" fill="#1a1a1a">Mar</text>
<text transform="translate(553.50,508.00) scale(0.9,1)" x="0" y="0" font-family='"Liberation Sans", sans-serif' font-size="8.8" text-anchor="middle" font-weight="normal" fill="#1a1a1a">Feb</text>
<text transform="translate(589.00,508.00) scale(0.9,1)" x="0" y="0" font-family='"Liberation Sans", sans-serif' font-size="8.8" text-anchor="middle" font-weight="normal" fill="#1a1a1a">Mar</text>
<text transform="translate(626.80,508.00) scale(0.9,1)" x="0" y="0" font-family='"Liberation Sans", sans-serif' font-size="8.8" text-anchor="middle" font-weight="normal" fill="#1a1a1a">Feb</text>
<text transform="translate(662.90,508.00) scale(0.9,1)" x="0" y="0" font-family='"Liberation Sans", sans-serif' font-size="8.8" text-anchor="middle" font-weight="normal" fill="#1a1a1a">Mar</text>
<text x="412.8" y="527.3" font-family='"Liberation Sans", sans-serif' font-size="9.9" text-anchor="middle" font-weight="bold" font-style="normal" fill="#111" >2017</text>
<text x="484.8" y="527.3" font-family='"Liberation Sans", sans-serif' font-size="9.9" text-anchor="middle" font-weight="bold" font-style="normal" fill="#111" >2018</text>
<text x="557.2" y="527.3" font-family='"Liberation Sans", sans-serif' font-size="9.9" text-anchor="middle" font-weight="bold" font-style="normal" fill="#111" >2019</text>
<text x="630.7" y="527.3" font-family='"Liberation Sans", sans-serif' font-size="9.9" text-anchor="middle" font-weight="bold" font-style="normal" fill="#111" >2020</text>
<text x="537.8" y="547.4" font-family='"Liberation Sans", sans-serif' font-size="14.2" text-anchor="middle" font-weight="bold" font-style="normal" fill="#111" >Year</text>
<text transform="translate(365.3,431) rotate(-90) scale(0.919,1)" font-family='"Liberation Sans", sans-serif' font-size="14" font-weight="bold" text-anchor="middle" fill="#111">PM<tspan font-size="10" dy="3.5">2.5</tspan><tspan dy="-3.5"> concentration (</tspan><tspan font-style="italic">μ</tspan>g/ m<tspan font-size="4.5" dy="-6">3</tspan><tspan dy="6">)</tspan></text>
<text x="345.5" y="320.2" font-family='"Liberation Serif", serif' font-size="16.95" text-anchor="start" font-weight="normal" font-style="normal" fill="#111" >(c) February and March</text>
<polyline points="409.9,398.3 446.2,425.7 482.7,411.4 519.1,423.5 555.7,410.9 592.2,437.2 628.2,440.0 664.8,455.2" fill="none" stroke="#000" stroke-width="2.5" stroke-linejoin="miter"/>
<polyline points="410.2,465.4 446.5,450.2 483.3,461.7 519.5,460.4 555.8,454.6 592.2,445.3 628.2,470.4 664.8,476.7" fill="none" stroke="#000080" stroke-width="2.5" stroke-linejoin="miter"/>
<circle cx="409.9" cy="398.3" r="3.2" fill="#fff" stroke="#000" stroke-width="1.0"/>
<circle cx="446.2" cy="425.7" r="3.2" fill="#fff" stroke="#000" stroke-width="1.0"/>
<circle cx="482.7" cy="411.4" r="3.2" fill="#fff" stroke="#000" stroke-width="1.0"/>
<circle cx="519.1" cy="423.5" r="3.2" fill="#fff" stroke="#000" stroke-width="1.0"/>
<circle cx="555.7" cy="410.9" r="3.2" fill="#fff" stroke="#000" stroke-width="1.0"/>
<circle cx="592.2" cy="437.2" r="3.2" fill="#fff" stroke="#000" stroke-width="1.0"/>
<circle cx="628.2" cy="440.0" r="3.2" fill="#fff" stroke="#000" stroke-width="1.0"/>
<circle cx="664.8" cy="455.2" r="3.2" fill="#fff" stroke="#000" stroke-width="1.0"/>
<rect x="407.1" y="462.2" width="6.3" height="6.3" fill="#fff" stroke="#00007a" stroke-width="1.0"/>
<rect x="443.4" y="447.1" width="6.3" height="6.3" fill="#fff" stroke="#00007a" stroke-width="1.0"/>
<rect x="480.2" y="458.6" width="6.3" height="6.3" fill="#fff" stroke="#00007a" stroke-width="1.0"/>
<rect x="516.4" y="457.2" width="6.3" height="6.3" fill="#fff" stroke="#00007a" stroke-width="1.0"/>
<rect x="552.6" y="451.5" width="6.3" height="6.3" fill="#fff" stroke="#00007a" stroke-width="1.0"/>
<rect x="589.1" y="442.2" width="6.3" height="6.3" fill="#fff" stroke="#00007a" stroke-width="1.0"/>
<rect x="625.1" y="467.2" width="6.3" height="6.3" fill="#fff" stroke="#00007a" stroke-width="1.0"/>
<rect x="661.6" y="473.6" width="6.3" height="6.3" fill="#fff" stroke="#00007a" stroke-width="1.0"/>
<line x1="409.4" y1="405.5" x2="592.3" y2="429.2" stroke="#111" stroke-width="1.2"/>
<line x1="410.2" y1="463.6" x2="588.5" y2="450.4" stroke="#2f4f8f" stroke-width="1.0"/>
<line x1="555.8" y1="415.1" x2="662.7" y2="454.7" stroke="#e41a1a" stroke-width="1.3"/>
<line x1="555.3" y1="446.9" x2="664.0" y2="476.2" stroke="#e41a1a" stroke-width="1.3"/>
<rect x="628.5" y="337.0" width="55.0" height="177.3" fill="#000" fill-opacity="0.11"/>
<text x="427.4" y="392.5" font-family='"Liberation Serif", serif' font-size="9" font-style="italic" text-anchor="middle" fill="#333" stroke="#333" stroke-width="0.14">y</text>
<text x="435.7" y="392.9" font-family='"Liberation Serif", serif' font-size="11.25" font-style="normal" text-anchor="middle" fill="#333" stroke="#333" stroke-width="0.14">=</text>
<text x="446.0" y="392.9" font-family='"Liberation Serif", serif' font-size="11.25" font-style="normal" text-anchor="middle" fill="#333" stroke="#333" stroke-width="0.14">−</text>
<text x="449.3" y="392.5" font-family='"Liberation Serif", serif' font-size="9" font-style="normal" text-anchor="start" fill="#333" stroke="#333" stroke-width="0.14" textLength="16.1" lengthAdjust="spacingAndGlyphs">2.65</text>
<text x="468.0" y="392.5" font-family='"Liberation Serif", serif' font-size="9" font-style="italic" text-anchor="middle" fill="#333" stroke="#333" stroke-width="0.14">x</text>
<text x="475.4" y="393.4" font-family='"Liberation Serif", serif' font-size="10.799999999999999" font-style="normal" text-anchor="middle" fill="#333" stroke="#333" stroke-width="0.14">+</text>
<text x="480.2" y="392.5" font-family='"Liberation Serif", serif' font-size="9" font-style="normal" text-anchor="start" fill="#333" stroke="#333" stroke-width="0.14" textLength="21.6" lengthAdjust="spacingAndGlyphs">63.59</text>
<text x="427.9" y="402.9" font-family='"Liberation Serif", serif' font-size="8.3" font-style="italic" text-anchor="middle" fill="#333" stroke="#333" stroke-width="0.14">R</text>
<text x="432.7" y="400.3" font-family='"Liberation Serif", serif' font-size="5.8100000000000005" font-style="normal" text-anchor="middle" fill="#333" stroke="#333" stroke-width="0.14">2</text>
<text x="440.0" y="403.2" font-family='"Liberation Serif", serif' font-size="10.375" font-style="normal" text-anchor="middle" fill="#333" stroke="#333" stroke-width="0.14">=</text>
<text x="444.5" y="402.9" font-family='"Liberation Serif", serif' font-size="8.3" font-style="normal" text-anchor="start" fill="#333" stroke="#333" stroke-width="0.14" textLength="24.7" lengthAdjust="spacingAndGlyphs">0.4088</text>
<text x="430.0" y="472.5" font-family='"Liberation Serif", serif' font-size="9" font-style="italic" text-anchor="middle" fill="#333" stroke="#333" stroke-width="0.14">y</text>
<text x="438.2" y="472.9" font-family='"Liberation Serif", serif' font-size="11.25" font-style="normal" text-anchor="middle" fill="#333" stroke="#333" stroke-width="0.14">=</text>
<text x="448.5" y="473.4" font-family='"Liberation Serif", serif' font-size="10.799999999999999" font-style="normal" text-anchor="middle" fill="#333" stroke="#333" stroke-width="0.14">+</text>
<text x="451.8" y="472.5" font-family='"Liberation Serif", serif' font-size="9" font-style="normal" text-anchor="start" fill="#333" stroke="#333" stroke-width="0.14" textLength="16.0" lengthAdjust="spacingAndGlyphs">1.42</text>
<text x="470.4" y="472.5" font-family='"Liberation Serif", serif' font-size="9" font-style="italic" text-anchor="middle" fill="#333" stroke="#333" stroke-width="0.14">x</text>
<text x="477.8" y="473.4" font-family='"Liberation Serif", serif' font-size="10.799999999999999" font-style="normal" text-anchor="middle" fill="#333" stroke="#333" stroke-width="0.14">+</text>
<text x="482.6" y="472.5" font-family='"Liberation Serif", serif' font-size="9" font-style="normal" text-anchor="start" fill="#333" stroke="#333" stroke-width="0.14" textLength="21.5" lengthAdjust="spacingAndGlyphs">27.80</text>
<text x="430.3" y="484.2" font-family='"Liberation Serif", serif' font-size="8.3" font-style="italic" text-anchor="middle" fill="#333" stroke="#333" stroke-width="0.14">R</text>
<text x="435.0" y="481.6" font-family='"Liberation Serif", serif' font-size="5.8100000000000005" font-style="normal" text-anchor="middle" fill="#333" stroke="#333" stroke-width="0.14">2</text>
<text x="442.4" y="484.5" font-family='"Liberation Serif", serif' font-size="10.375" font-style="normal" text-anchor="middle" fill="#333" stroke="#333" stroke-width="0.14">=</text>
<text x="446.9" y="484.2" font-family='"Liberation Serif", serif' font-size="8.3" font-style="normal" text-anchor="start" fill="#333" stroke="#333" stroke-width="0.14" textLength="24.6" lengthAdjust="spacingAndGlyphs">0.3790</text>
<text x="600.2" y="422.5" font-family='"Liberation Serif", serif' font-size="9" font-style="italic" text-anchor="middle" fill="#ec3434" stroke="#ec3434" stroke-width="0.18">y</text>
<text x="608.4" y="422.9" font-family='"Liberation Serif", serif' font-size="11.25" font-style="normal" text-anchor="middle" fill="#ec3434" stroke="#ec3434" stroke-width="0.18">=</text>
<text x="618.7" y="422.9" font-family='"Liberation Serif", serif' font-size="11.25" font-style="normal" text-anchor="middle" fill="#ec3434" stroke="#ec3434" stroke-width="0.18">−</text>
<text x="621.9" y="422.5" font-family='"Liberation Serif", serif' font-size="9" font-style="normal" text-anchor="start" fill="#ec3434" stroke="#ec3434" stroke-width="0.18" textLength="16.0" lengthAdjust="spacingAndGlyphs">7.60</text>
<text x="640.5" y="422.5" font-family='"Liberation Serif", serif' font-size="9" font-style="italic" text-anchor="middle" fill="#ec3434" stroke="#ec3434" stroke-width="0.18">x</text>
<text x="647.8" y="423.4" font-family='"Liberation Serif", serif' font-size="10.799999999999999" font-style="normal" text-anchor="middle" fill="#ec3434" stroke="#ec3434" stroke-width="0.18">+</text>
<text x="652.7" y="422.5" font-family='"Liberation Serif", serif' font-size="9" font-style="normal" text-anchor="start" fill="#ec3434" stroke="#ec3434" stroke-width="0.18" textLength="21.4" lengthAdjust="spacingAndGlyphs">63.11</text>
<text x="633.1" y="432.8" font-family='"Liberation Serif", serif' font-size="8.3" font-style="italic" text-anchor="middle" fill="#ec3434" stroke="#ec3434" stroke-width="0.18">R</text>
<text x="637.9" y="430.2" font-family='"Liberation Serif", serif' font-size="5.8100000000000005" font-style="normal" text-anchor="middle" fill="#ec3434" stroke="#ec3434" stroke-width="0.18">2</text>
<text x="645.2" y="433.1" font-family='"Liberation Serif", serif' font-size="10.375" font-style="normal" text-anchor="middle" fill="#ec3434" stroke="#ec3434" stroke-width="0.18">=</text>
<text x="649.7" y="432.8" font-family='"Liberation Serif", serif' font-size="8.3" font-style="normal" text-anchor="start" fill="#ec3434" stroke="#ec3434" stroke-width="0.18" textLength="24.7" lengthAdjust="spacingAndGlyphs">0.9065</text>
<text x="595.6" y="487.5" font-family='"Liberation Serif", serif' font-size="9" font-style="italic" text-anchor="middle" fill="#ec3434" stroke="#ec3434" stroke-width="0.18">y</text>
<text x="603.9" y="487.9" font-family='"Liberation Serif", serif' font-size="11.25" font-style="normal" text-anchor="middle" fill="#ec3434" stroke="#ec3434" stroke-width="0.18">=</text>
<text x="614.2" y="487.9" font-family='"Liberation Serif", serif' font-size="11.25" font-style="normal" text-anchor="middle" fill="#ec3434" stroke="#ec3434" stroke-width="0.18">−</text>
<text x="617.5" y="487.5" font-family='"Liberation Serif", serif' font-size="9" font-style="normal" text-anchor="start" fill="#ec3434" stroke="#ec3434" stroke-width="0.18" textLength="16.1" lengthAdjust="spacingAndGlyphs">5.20</text>
<text x="636.2" y="487.5" font-family='"Liberation Serif", serif' font-size="9" font-style="italic" text-anchor="middle" fill="#ec3434" stroke="#ec3434" stroke-width="0.18">x</text>
<text x="643.6" y="488.4" font-family='"Liberation Serif", serif' font-size="10.799999999999999" font-style="normal" text-anchor="middle" fill="#ec3434" stroke="#ec3434" stroke-width="0.18">+</text>
<text x="648.4" y="487.5" font-family='"Liberation Serif", serif' font-size="9" font-style="normal" text-anchor="start" fill="#ec3434" stroke="#ec3434" stroke-width="0.18" textLength="21.6" lengthAdjust="spacingAndGlyphs">42.62</text>
<text x="629.8" y="498.5" font-family='"Liberation Serif", serif' font-size="8.3" font-style="italic" text-anchor="middle" fill="#ec3434" stroke="#ec3434" stroke-width="0.18">R</text>
<text x="634.6" y="495.9" font-family='"Liberation Serif", serif' font-size="5.8100000000000005" font-style="normal" text-anchor="middle" fill="#ec3434" stroke="#ec3434" stroke-width="0.18">2</text>
<text x="641.9" y="498.8" font-family='"Liberation Serif", serif' font-size="10.375" font-style="normal" text-anchor="middle" fill="#ec3434" stroke="#ec3434" stroke-width="0.18">=</text>
<text x="646.4" y="498.5" font-family='"Liberation Serif", serif' font-size="8.3" font-style="normal" text-anchor="start" fill="#ec3434" stroke="#ec3434" stroke-width="0.18" textLength="24.7" lengthAdjust="spacingAndGlyphs">0.6746</text>
<line x1="564.9" y1="351.0" x2="582.8" y2="351.0" stroke="#000" stroke-width="2.2"/>
<circle cx="573.6" cy="351.0" r="3.0" fill="#fff" stroke="#000" stroke-width="1.0"/>
<line x1="564.9" y1="361.5" x2="582.8" y2="361.5" stroke="#000080" stroke-width="2.2"/>
<rect x="570.6" y="358.5" width="6" height="6" fill="#fff" stroke="#00007a" stroke-width="1.0"/>
<text x="586.3" y="353.6" font-family='"Liberation Sans", sans-serif' font-size="7.4" text-anchor="start" font-weight="normal" font-style="normal" fill="#1a1a1a" >China</text>
<text x="586.3" y="363.6" font-family='"Liberation Sans", sans-serif' font-size="7.4" text-anchor="start" font-weight="normal" font-style="normal" fill="#1a1a1a" >South Korea</text>
<text x="655.8" y="348.5" font-family='"Liberation Sans", sans-serif' font-size="8.8" text-anchor="middle" font-weight="bold" font-style="normal" fill="#111" >COVID-19</text>
</svg>
</body></html>
